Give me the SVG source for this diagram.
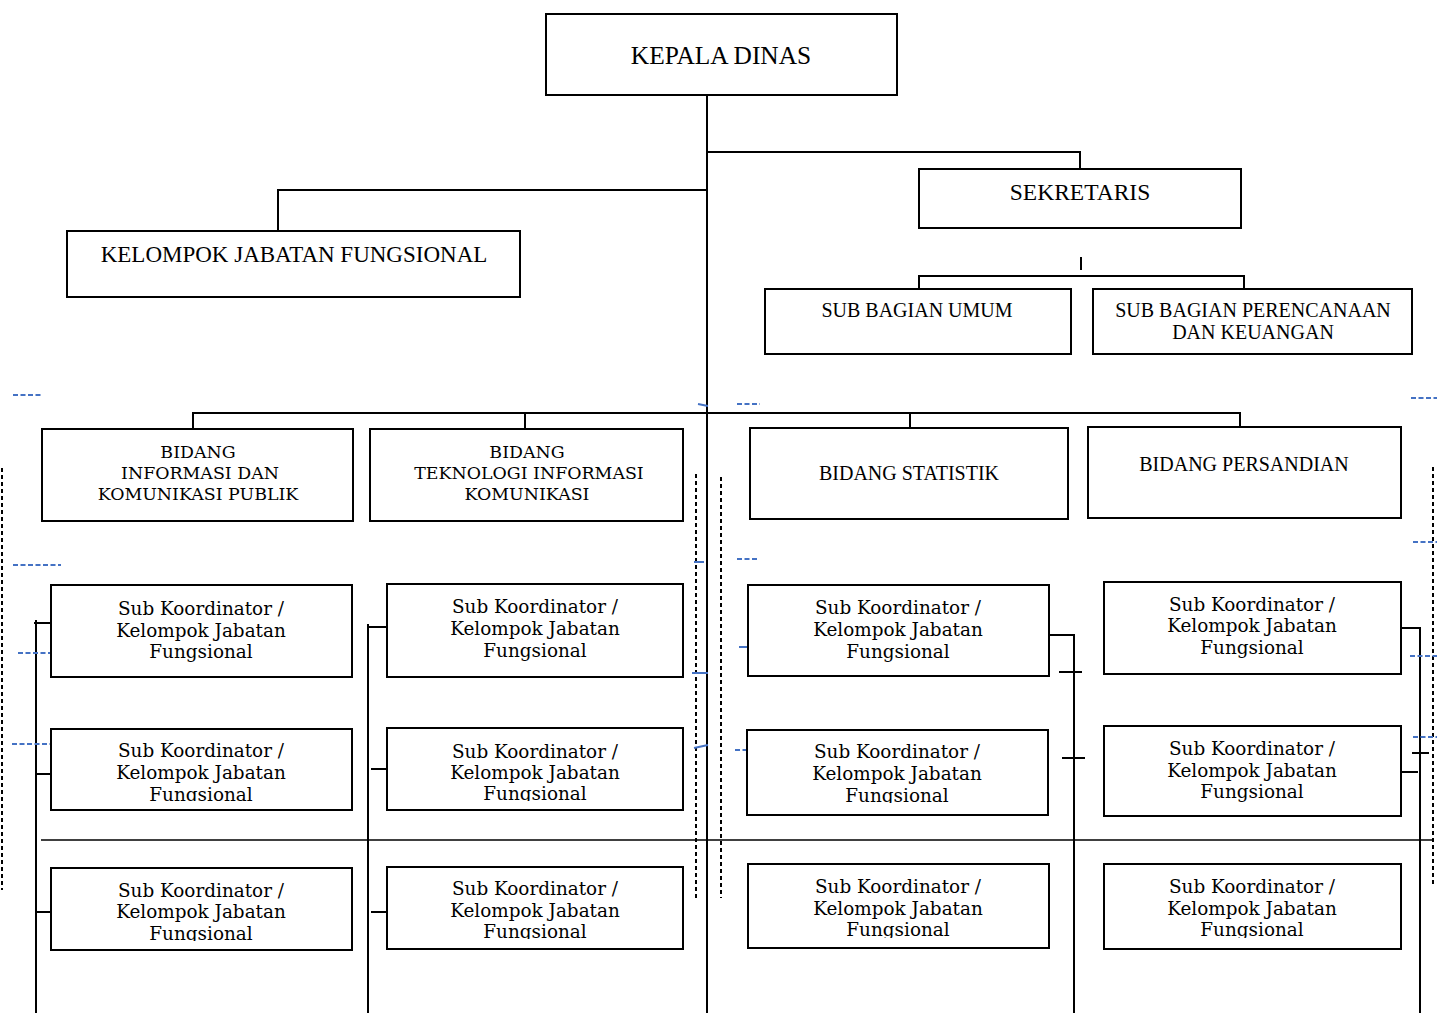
<svg xmlns="http://www.w3.org/2000/svg" width="1437" height="1013" viewBox="0 0 1437 1013">
<defs>
<style>
.box{fill:#fff;stroke:#000;stroke-width:2}
.ln{fill:none;stroke:#000;stroke-width:2}
.thin{fill:none;stroke:#000;stroke-width:1.6}
.dash{fill:none;stroke:#000;stroke-width:2;stroke-dasharray:4 3}
.blue{fill:none;stroke:#4472c4;stroke-width:1.8;stroke-dasharray:5 2.5}
.bluesolid{fill:none;stroke:#4472c4;stroke-width:2}
.cap{font-family:"Liberation Serif","Times New Roman",serif;font-size:20px;fill:#000;text-anchor:middle}
.bk{font-family:"DejaVu Serif","Liberation Serif",serif;font-size:17.4px;fill:#000;text-anchor:middle}
.sk{font-family:"DejaVu Serif","Liberation Serif",serif;font-size:18.4px;fill:#000;text-anchor:middle}
</style>
<clipPath id="c12"><rect x="40" y="725" width="320" height="76"/></clipPath>
<clipPath id="c13"><rect x="40" y="865" width="320" height="76"/></clipPath>
<clipPath id="c22"><rect x="380" y="725" width="310" height="76"/></clipPath>
<clipPath id="c23"><rect x="380" y="865" width="310" height="74"/></clipPath>
<clipPath id="c32"><rect x="740" y="725" width="320" height="78"/></clipPath>
<clipPath id="c33"><rect x="740" y="860" width="320" height="78"/></clipPath>
<clipPath id="c43"><rect x="1100" y="860" width="310" height="78"/></clipPath>
</defs>
<rect width="1437" height="1013" fill="#fff"/>

<g id="connectors">
<path class="ln" d="M707 95V1013"/>
<path class="ln" d="M707 152H1080V169"/>
<path class="ln" d="M707 190H278V231"/>
<path class="ln" d="M1081 257V270"/>
<path class="ln" d="M919 289V276H1244V289"/>
<path class="ln" d="M193 429V413H1240V427"/>
<path class="ln" d="M525 413V429"/>
<path class="ln" d="M910 413V428"/>
<path class="thin" d="M41 840H1432"/>
<!-- col1 -->
<path class="ln" d="M36 620V1013"/>
<path class="ln" d="M34 623H51"/>
<path class="ln" d="M36 774H51"/>
<path class="ln" d="M36 912H51"/>
<!-- col2 -->
<path class="ln" d="M368 624V1013"/>
<path class="ln" d="M368 627H386"/>
<path class="ln" d="M371 769H386"/>
<path class="ln" d="M371 912H386"/>
<!-- col3 -->
<path class="ln" d="M1050 635H1074V1013"/>
<path class="ln" d="M1059 672H1082"/>
<path class="ln" d="M1062 758H1085"/>
<!-- col4 -->
<path class="ln" d="M1401 628H1420V1013"/>
<path class="ln" d="M1412 753H1429"/>
<path class="ln" d="M1401 772H1418"/>
<!-- dashed black -->
<path class="dash" d="M2 468V890"/>
<path class="dash" d="M696 474V898"/>
<path class="dash" d="M721 477V898"/>
<path class="dash" d="M1433 467V887"/>
<!-- blue marks -->
<path class="blue" d="M13 395H43"/>
<path class="blue" d="M13 565H61"/>
<path class="blue" d="M18 653H60"/>
<path class="blue" d="M12 744H61"/>
<path class="bluesolid" d="M698 404L708 406"/>
<path class="blue" d="M737 404H760"/>
<path class="bluesolid" d="M694 562H704"/>
<path class="blue" d="M737 559H759"/>
<path class="bluesolid" d="M692 673H708"/>
<path class="bluesolid" d="M739 647H762"/>
<path class="bluesolid" d="M694 748L708 745"/>
<path class="blue" d="M735 750H757"/>
<path class="blue" d="M1411 398H1437"/>
<path class="blue" d="M1413 542H1437"/>
<path class="blue" d="M1410 656H1437"/>
<path class="blue" d="M1413 737H1437"/>
</g>

<g id="kepala-dinas">
<rect class="box" x="546" y="14" width="351" height="81"/>
<text class="cap" x="721" y="64" style="font-size:25.4px">KEPALA DINAS</text>
</g>
<g id="sekretaris">
<rect class="box" x="919" y="169" width="322" height="59"/>
<text class="cap" x="1080" y="200" style="font-size:23.5px">SEKRETARIS</text>
</g>
<g id="kelompok-jabatan-fungsional">
<rect class="box" x="67" y="231" width="453" height="66"/>
<text class="cap" x="294" y="262" style="font-size:23px">KELOMPOK JABATAN FUNGSIONAL</text>
</g>
<g id="sub-bagian-umum">
<rect class="box" x="765" y="289" width="306" height="65"/>
<text class="cap" x="917" y="317">SUB BAGIAN UMUM</text>
</g>
<g id="sub-bagian-perencanaan">
<rect class="box" x="1093" y="289" width="319" height="65"/>
<text class="cap" x="1253" y="317">SUB BAGIAN PERENCANAAN</text>
<text class="cap" x="1253" y="339">DAN KEUANGAN</text>
</g>

<g id="bidang-ikp">
<rect class="box" x="42" y="429" width="311" height="92"/>
<text class="bk" x="198" y="458">BIDANG</text>
<text class="bk" x="200" y="479">INFORMASI DAN</text>
<text class="bk" x="198" y="500">KOMUNIKASI PUBLIK</text>
</g>
<g id="bidang-tik">
<rect class="box" x="370" y="429" width="313" height="92"/>
<text class="bk" x="527" y="458">BIDANG</text>
<text class="bk" x="529" y="479">TEKNOLOGI INFORMASI</text>
<text class="bk" x="527" y="500">KOMUNIKASI</text>
</g>
<g id="bidang-statistik">
<rect class="box" x="750" y="428" width="318" height="91"/>
<text class="cap" x="909" y="480">BIDANG STATISTIK</text>
</g>
<g id="bidang-persandian">
<rect class="box" x="1088" y="427" width="313" height="91"/>
<text class="cap" x="1244" y="471">BIDANG PERSANDIAN</text>
</g>

<!-- column 1 -->
<g id="sk-1-1">
<rect class="box" x="51" y="585" width="301" height="92"/>
<text class="sk" x="201" y="615">Sub Koordinator /</text>
<text class="sk" x="201" y="637">Kelompok Jabatan</text>
<text class="sk" x="201" y="658">Fungsional</text>
</g>
<g id="sk-1-2">
<rect class="box" x="51" y="729" width="301" height="81"/>
<g clip-path="url(#c12)">
<text class="sk" x="201" y="757">Sub Koordinator /</text>
<text class="sk" x="201" y="779">Kelompok Jabatan</text>
<text class="sk" x="201" y="801">Fungsional</text>
</g>
</g>
<g id="sk-1-3">
<rect class="box" x="51" y="868" width="301" height="82"/>
<g clip-path="url(#c13)">
<text class="sk" x="201" y="897">Sub Koordinator /</text>
<text class="sk" x="201" y="918">Kelompok Jabatan</text>
<text class="sk" x="201" y="940">Fungsional</text>
</g>
</g>

<!-- column 2 -->
<g id="sk-2-1">
<rect class="box" x="387" y="584" width="296" height="93"/>
<text class="sk" x="535" y="613">Sub Koordinator /</text>
<text class="sk" x="535" y="635">Kelompok Jabatan</text>
<text class="sk" x="535" y="657">Fungsional</text>
</g>
<g id="sk-2-2">
<rect class="box" x="387" y="728" width="296" height="82"/>
<g clip-path="url(#c22)">
<text class="sk" x="535" y="758">Sub Koordinator /</text>
<text class="sk" x="535" y="779">Kelompok Jabatan</text>
<text class="sk" x="535" y="800">Fungsional</text>
</g>
</g>
<g id="sk-2-3">
<rect class="box" x="387" y="867" width="296" height="82"/>
<g clip-path="url(#c23)">
<text class="sk" x="535" y="895">Sub Koordinator /</text>
<text class="sk" x="535" y="917">Kelompok Jabatan</text>
<text class="sk" x="535" y="938">Fungsional</text>
</g>
</g>

<!-- column 3 -->
<g id="sk-3-1">
<rect class="box" x="748" y="585" width="301" height="91"/>
<text class="sk" x="898" y="614">Sub Koordinator /</text>
<text class="sk" x="898" y="636">Kelompok Jabatan</text>
<text class="sk" x="898" y="658">Fungsional</text>
</g>
<g id="sk-3-2">
<rect class="box" x="747" y="730" width="301" height="85"/>
<g clip-path="url(#c32)">
<text class="sk" x="897" y="758">Sub Koordinator /</text>
<text class="sk" x="897" y="780">Kelompok Jabatan</text>
<text class="sk" x="897" y="802">Fungsional</text>
</g>
</g>
<g id="sk-3-3">
<rect class="box" x="748" y="864" width="301" height="84"/>
<g clip-path="url(#c33)">
<text class="sk" x="898" y="893">Sub Koordinator /</text>
<text class="sk" x="898" y="915">Kelompok Jabatan</text>
<text class="sk" x="898" y="936">Fungsional</text>
</g>
</g>

<!-- column 4 -->
<g id="sk-4-1">
<rect class="box" x="1104" y="582" width="297" height="92"/>
<text class="sk" x="1252" y="611">Sub Koordinator /</text>
<text class="sk" x="1252" y="632">Kelompok Jabatan</text>
<text class="sk" x="1252" y="654">Fungsional</text>
</g>
<g id="sk-4-2">
<rect class="box" x="1104" y="726" width="297" height="90"/>
<text class="sk" x="1252" y="755">Sub Koordinator /</text>
<text class="sk" x="1252" y="777">Kelompok Jabatan</text>
<text class="sk" x="1252" y="798">Fungsional</text>
</g>
<g id="sk-4-3">
<rect class="box" x="1104" y="864" width="297" height="85"/>
<g clip-path="url(#c43)">
<text class="sk" x="1252" y="893">Sub Koordinator /</text>
<text class="sk" x="1252" y="915">Kelompok Jabatan</text>
<text class="sk" x="1252" y="936">Fungsional</text>
</g>
</g>
</svg>
